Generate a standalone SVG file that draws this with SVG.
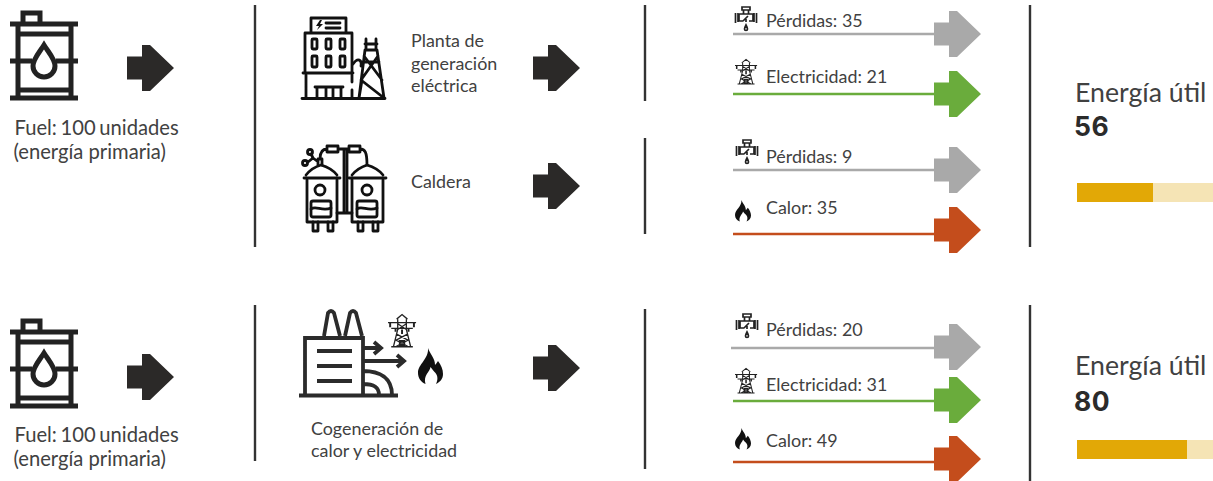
<svg xmlns="http://www.w3.org/2000/svg" width="1213" height="481" viewBox="0 0 1213 481">
<style>
text{font-family:Lato,"Liberation Sans",sans-serif;fill:#414141}
.t18{font-size:20.200px}.fu{word-spacing:-1.500px}.t17{font-size:17.900px}
.big{font-size:26.700px}
.num{font-family:Inter,"Liberation Sans",sans-serif;font-weight:700;font-size:26.500px;fill:#2b2b2b;letter-spacing:.6px}
.sep{stroke:#333;stroke-width:2.400;fill:none}
.ln{stroke-width:2.600;fill:none}
.ic{fill:none;stroke:#222;stroke-width:5}
.i2{fill:none;stroke:#111;stroke-width:2.800;stroke-linecap:round;stroke-linejoin:round}
.i3{fill:none;stroke:#222;stroke-width:1.200}
</style>
<defs>
<polygon id="arr" points="0,-11.5 15,-11.5 15,-23 23,-23 47,0 23,23 15,23 15,11.5 0,11.5"/>
<g id="barrel" class="ic">
<path d="M23 23V13H40V23M10 24H78M18 24V98M71 24V98M18 34H71M10 61H32M56 61H78M18 90H71M10 98H78"/>
<path d="M44 45C39 53 33 59 33 66A11 11 0 0 0 55 66C55 59 49 53 44 45Z"/>
</g>
<g id="tower" class="i3">
<path d="M0 4H26M3 9H23M8 1L13 -3L18 1M9 1V10L5 25H21L17 10V1M9 5L17 10M17 5L9 10M8 14L18 19M18 14L8 19M7 19L19 25M19 19L7 25M3 25H23"/>
<path d="M2 4V8M24 4V8M7 9V12M19 9V12M13 10V14M11 20H15V24H11Z" stroke-width="1.800"/>
</g>
<path id="flame" fill="#111" d="M10 0C12 6 17 10 17 17C18 16 19 14.500 20 13C23 17 25 21 25 26C25 31 22 34 18 36C20 32 20 28 17.500 25C16 23.500 14 21 12.500 19C12 24 5 27 7.500 36C3 34 0 30 0 25C0 16 11 11 10 0Z"/>
<g id="valve" fill="none" stroke="#222" stroke-width="1.700">
<path d="M8 1H16V4H8ZM9.500 4V8M14.500 4V8M5 8H19V15H15M9 15H5V8M1.500 7V17M4 7V16M20 7V16M22.500 7V17M9 15L14 10M12 13V16"/>
<path d="M12 19C11 21 10.500 22 10.500 23A1.500 1.500 0 0 0 13.500 23C13.500 22 13 21 12 19Z"/>
</g>
</defs>
<g id="connectors">
<path class="sep" d="M255 5V247M255 305V461M645 5V101M645 138V234M645 309V469M1030 5V247M1030 305V481"/>
<path class="ln" stroke="#a9a9a9" d="M733 34H936M733 170H936M731 348H936"/>
<path class="ln" stroke="#6aac3c" d="M733 94H936M733 401H936"/>
<path class="ln" stroke="#c44d1c" d="M733 234H936M733 462H936"/>
</g>
<g id="fuel-1"><use href="#barrel"/><text class="t18 fu" x="14.500" y="135">Fuel: 100 unidades</text><text class="t18" x="13.500" y="159">(energía primaria)</text></g>
<g id="fuel-2"><use href="#barrel" y="308"/><text class="t18 fu" x="14.500" y="442">Fuel: 100 unidades</text><text class="t18" x="13.500" y="466">(energía primaria)</text></g>
<g id="arrows-black" fill="#2b2928">
<use href="#arr" x="127" y="68"/><use href="#arr" x="127" y="377"/><use href="#arr" x="533" y="68"/><use href="#arr" x="533" y="186"/><use href="#arr" x="533" y="368"/>
</g>
<g id="plant">
<g class="i2">
<path d="M302 98.500H385M305 33H352V72M305 33V72M311 32V18H346V32M303 73H353M306 75V98M352 75V82M352 90V98M317 98V87H341V98M326 87V98M333 87V98M315 87H343"/>
<rect x="312" y="39" width="5" height="10" rx="1"/><rect x="326" y="39" width="5" height="10" rx="1"/><rect x="340" y="39" width="5" height="10" rx="1"/>
<rect x="312" y="56" width="5" height="11" rx="1"/><rect x="326" y="56" width="5" height="11" rx="1"/><rect x="340" y="56" width="5" height="11" rx="1"/>
<path d="M326 23H340M326 28H340"/>
<path d="M353 64C358 57 362 60 361 66M359 98L365 50H377L384 98M364 56L382 80M378 56L361 80L384 98M362 80L359 98M363 62H379M365 44H377M366 39V50M376 39V50"/>
</g>
<path d="M320 20L316 26H319L317 30L323 24H320L322 20Z" fill="#111"/>
<text class="t17" x="411" y="47">Planta de</text><text class="t17" x="411" y="70">generación</text><text class="t17" x="411" y="92">eléctrica</text>
</g>
<g id="boiler">
<g class="i2">
<path d="M306 175C310 170 314 167 321 165C328 167 333 170 337 175M304 178H340M307 180V222H337V180"/>
<path d="M352 175C356 170 361 167 367 165C374 167 379 170 383 175M349 178H386M352 180V222H383V180"/>
<circle cx="320" cy="190" r="5"/><circle cx="367" cy="190" r="5"/>
<rect x="311" y="201" width="20" height="16" rx="2"/><rect x="357" y="201" width="20" height="16" rx="2"/>
<path d="M311 209C316 205 322 212 331 208M357 209C362 205 368 212 377 208M313 222V231H318V222M328 222V231H333V222M358 222V231H363V222M373 222V231H378V222"/>
<path d="M337 213H352M344 150V213M347 150V213M318 165V159H322V165M320 159C320 152 322 149 327 149M327 146H338V152H327ZM338 149H349M349 146H360V152H349ZM360 149C365 149 367 152 367 165M317 161L313 158M308 162L313 158L311 154"/>
<circle cx="305" cy="163" r="2.500"/><circle cx="310" cy="152" r="2.500"/>
</g>
<text class="t17" x="411" y="188">Caldera</text>
</g>
<g id="cogen">
<path d="M299 395.500H398M305 395V338H363V395M324 336L328 313Q331 309 334 313L340 336M345 336L350 313Q353 309 356 313L362 336M317 351H352M317 366H352M317 381H352M363 348H380M374 342L381 348L374 354M363 361H404M397 355L404 361L397 367M363 371C380 371 392 378 392 395M363 384C372 384 379 386 379 395" fill="none" stroke="#2b2b2b" stroke-width="3.800"/>
<use href="#tower" transform="translate(388 318) scale(1.080 1.150)"/>
<use href="#flame" transform="translate(418 348)"/>
<text class="t17" x="311" y="435">Cogeneración de</text><text class="t17" x="311" y="457">calor y electricidad</text>
</g>
<g id="out-a1"><use href="#valve" x="734" y="6"/><text class="t17" x="766" y="27">Pérdidas: 35</text><use href="#arr" x="934" y="34" fill="#a9a9a9"/></g>
<g id="out-a2"><use href="#tower" transform="translate(735 62) scale(.85 .88)"/><text class="t17" x="766" y="83">Electricidad: 21</text><use href="#arr" x="934" y="94" fill="#6aac3c"/></g>
<g id="out-a3"><use href="#valve" x="735" y="139"/><text class="t17" x="766" y="163">Pérdidas: 9</text><use href="#arr" x="934" y="170" fill="#a9a9a9"/></g>
<g id="out-a4"><use href="#flame" transform="translate(735 200) scale(.64 .6)"/><text class="t17" x="766" y="214">Calor: 35</text><use href="#arr" x="934" y="230" fill="#c44d1c"/></g>
<g id="out-b1"><use href="#valve" x="735" y="313"/><text class="t17" x="766" y="336">Pérdidas: 20</text><use href="#arr" x="934" y="347" fill="#a9a9a9"/></g>
<g id="out-b2"><use href="#tower" transform="translate(735 371) scale(.85 .88)"/><text class="t17" x="766" y="391">Electricidad: 31</text><use href="#arr" x="934" y="400" fill="#6aac3c"/></g>
<g id="out-b3"><use href="#flame" transform="translate(735 428) scale(.64 .6)"/><text class="t17" x="766" y="447">Calor: 49</text><use href="#arr" x="934" y="459" fill="#c44d1c"/></g>
<g id="result-1"><text class="big" x="1075" y="102">Energía útil</text><text class="num" x="1074" y="136">56</text>
<rect x="1077" y="183" width="136" height="19" fill="#f5e4b5"/><rect x="1077" y="183" width="76" height="19" fill="#e2a806"/></g>
<g id="result-2"><text class="big" x="1075" y="375">Energía útil</text><text class="num" x="1074" y="411">80</text>
<rect x="1077" y="440" width="136" height="19" fill="#f5e4b5"/><rect x="1077" y="440" width="110" height="19" fill="#e2a806"/></g>
</svg>
